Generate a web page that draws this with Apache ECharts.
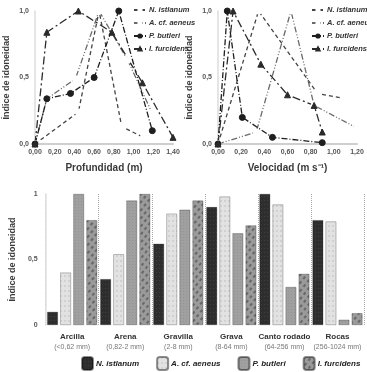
<!DOCTYPE html>
<html>
<head>
<meta charset="utf-8">
<script src="https://cdn.jsdelivr.net/npm/echarts@6/dist/echarts.min.js"></script>
<style>
html, body { margin: 0; padding: 0; background: #fff; }
#chart { width: 367px; height: 372px; }
</style>
</head>
<body>
<div id="chart"></div>
<script>
// especies
const speciesNames = ['N. istlanum', 'A. cf. aeneus', 'P. butleri', 'I. furcidens']

// profundidad (m)
const depthIstlanumX = [0, 0.44, 0.65, 0.88, 1.10]
const depthIstlanumY = [0, 0.24, 1.0, 0.13, 0.05]
const depthAeneusX = [0, 0.12, 0.41, 0.65, 0.94, 1.19]
const depthAeneusY = [0, 0.34, 0.49, 1.0, 0.63, 0.23]
const depthButleriX = [0, 0.12, 0.36, 0.60, 0.85, 1.19]
const depthButleriY = [0, 0.34, 0.38, 0.50, 1.0, 0.10]
const depthFurcidensX = [0, 0.12, 0.44, 0.78, 1.09, 1.40]
const depthFurcidensY = [0, 0.84, 1.0, 0.84, 0.46, 0.05]

// velocidad (m s-1)
const velIstlanumX = [0, 0.35, 0.86, 1.10]
const velIstlanumY = [0, 1.0, 0.38, 0.34]
const velAeneusX = [0, 0.33, 0.63, 0.83, 1.20]
const velAeneusY = [0, 0.09, 1.0, 0.29, 0.12]
const velButleriX = [0, 0.08, 0.21, 0.47, 0.90]
const velButleriY = [0, 1.0, 0.20, 0.05, 0.01]
const velFurcidensX = [0, 0.13, 0.37, 0.60, 0.83, 0.90]
const velFurcidensY = [0, 1.0, 0.60, 0.37, 0.29, 0.09]

// sustrato
const substrateNames = ['Arcilla', 'Arena', 'Gravilla', 'Grava', 'Canto rodado', 'Rocas']
const substrateRanges = ['(<0,62 mm)', '(0,82-2 mm)', '(2-8 mm)', '(8-64 mm)', '(64-256 mm)', '(256-1024 mm)']
const subIstlanum = [0.10, 0.35, 0.62, 0.90, 1.0, 0.80]
const subAeneus = [0.40, 0.54, 0.85, 0.98, 0.92, 0.79]
const subButleri = [1.0, 0.95, 0.88, 0.70, 0.29, 0.04]
const subFurcidens = [0.80, 1.0, 0.95, 0.76, 0.39, 0.09]

const font = '"Liberation Sans", Arial, sans-serif'

function zip (xs, ys) {
  return xs.map((x, i) => [x, ys[i]])
}
function comma (v, d) {
  return v.toFixed(d).replace('.', ',')
}

// estilos de linea por especie
const lineLook = [
  { color: '#444', dash: [4, 3], symbol: 'emptyCircle', size: 5 },
  { color: '#6a6a6a', dash: [6, 2, 1, 2, 1, 2], symbol: 'emptyCircle', size: 5 },
  { color: '#1e1e1e', dash: [6, 2, 1, 2], symbol: 'circle', size: 6 },
  { color: '#2a2a2a', dash: [8, 3, 2, 3], symbol: 'triangle', size: 6 }
]

const depthData = [
  zip(depthIstlanumX, depthIstlanumY),
  zip(depthAeneusX, depthAeneusY),
  zip(depthButleriX, depthButleriY),
  zip(depthFurcidensX, depthFurcidensY)
]
const velData = [
  zip(velIstlanumX, velIstlanumY),
  zip(velAeneusX, velAeneusY),
  zip(velButleriX, velButleriY),
  zip(velFurcidensX, velFurcidensY)
]
const barData = [subIstlanum, subAeneus, subButleri, subFurcidens]

const barLook = [
  { color: '#2e2e2e', decal: { symbol: 'rect', color: 'rgba(255,255,255,0.08)', dashArrayX: [1, 2], dashArrayY: [1, 3], symbolSize: 1 } },
  { color: '#e2e2e2', decal: { symbol: 'circle', color: 'rgba(0,0,0,0.10)', dashArrayX: [2, 2], dashArrayY: [2, 3], symbolSize: 1 } },
  { color: '#a0a0a0', decal: { symbol: 'rect', color: 'rgba(0,0,0,0.08)', dashArrayX: [1, 2], dashArrayY: [1, 2], symbolSize: 1 } },
  { color: '#9a9a9a', decal: { symbol: 'rect', color: 'rgba(40,40,40,0.45)', dashArrayX: [[3, 3]], dashArrayY: [2, 3], rotation: -0.9, symbolSize: 1 } }
]

function lineSeries (idx, data, gridIdx) {
  const look = lineLook[idx]
  return {
    name: speciesNames[idx],
    type: 'line',
    xAxisIndex: gridIdx,
    yAxisIndex: gridIdx,
    data: data,
    symbol: look.symbol,
    symbolSize: look.size,
    showAllSymbol: true,
    lineStyle: { color: look.color, width: 1.3, type: look.dash },
    itemStyle: { color: look.symbol.indexOf('empty') === 0 ? '#fff' : look.color, borderColor: look.color, borderWidth: 1 },
    z: 3
  }
}

const axisNameStyle = { fontFamily: font, fontWeight: 'bold', color: '#3a3a3a' }
const axisLabelStyle = { fontFamily: font, fontWeight: 'bold', color: '#555' }

function valueXAxis (gridIdx, max, name) {
  return {
    type: 'value',
    gridIndex: gridIdx,
    min: 0,
    max: max,
    interval: 0.2,
    name: name,
    nameLocation: 'middle',
    nameGap: 19,
    nameTextStyle: Object.assign({ fontSize: 10 }, axisNameStyle),
    axisLine: { show: true, lineStyle: { color: '#cfcfcf', width: 2 } },
    axisTick: { show: false },
    splitLine: { show: false },
    axisLabel: Object.assign({ fontSize: 7, margin: 5, formatter: v => comma(v, 2) }, axisLabelStyle)
  }
}
function valueYAxis (gridIdx) {
  return {
    type: 'value',
    gridIndex: gridIdx,
    min: 0,
    max: 1,
    interval: 0.5,
    name: 'Índice de idoneidad',
    nameLocation: 'middle',
    nameGap: 24,
    nameTextStyle: Object.assign({ fontSize: 9 }, axisNameStyle),
    axisLine: { show: true, lineStyle: { color: '#dcdcdc', width: 1.5 } },
    axisTick: { show: false },
    splitLine: { show: false },
    axisLabel: Object.assign({ fontSize: 7, margin: 6, formatter: v => comma(v, 1) }, axisLabelStyle)
  }
}

const series = []
for (let i = 0; i < 4; i++) series.push(lineSeries(i, depthData[i], 0))
for (let i = 0; i < 4; i++) series.push(lineSeries(i, velData[i], 1))
for (let i = 0; i < 4; i++) {
  series.push({
    name: 'bar:' + speciesNames[i],
    type: 'bar',
    xAxisIndex: 2,
    yAxisIndex: 2,
    data: barData[i],
    barGap: '22%',
    barCategoryGap: '6%',
    itemStyle: { color: barLook[i].color, decal: barLook[i].decal, borderColor: 'rgba(0,0,0,0.25)', borderWidth: 0.5 }
  })
}

const lineLegend = (left) => ({
  data: speciesNames,
  left: left,
  top: 1,
  orient: 'vertical',
  itemGap: 5,
  itemWidth: 12,
  itemHeight: 4,
  textStyle: { fontFamily: font, fontSize: 7.5, fontStyle: 'italic', fontWeight: 'bold', color: '#333', padding: [0, 0, 0, -2] },
  selectedMode: false
})

const option = {
  animation: false,
  backgroundColor: '#fff',
  legend: [
    lineLegend(128),
    lineLegend(306),
    {
      data: speciesNames.map(n => 'bar:' + n),
      formatter: n => n.replace('bar:', ''),
      left: 76,
      top: 351,
      itemGap: 17,
      itemWidth: 11,
      itemHeight: 13,
      textStyle: { fontFamily: font, fontSize: 8, fontStyle: 'italic', fontWeight: 'bold', color: '#222', padding: [0, 0, 0, -2] },
      selectedMode: false
    }
  ],
  grid: [
    { left: 35, top: 11, width: 138, height: 133 },
    { left: 218, top: 11, width: 139, height: 133 },
    { left: 37, top: 194, width: 327, height: 131 }
  ],
  xAxis: [
    valueXAxis(0, 1.4, 'Profundidad (m)'),
    valueXAxis(1, 1.2, 'Velocidad (m s⁻¹)'),
    {
      type: 'category',
      gridIndex: 2,
      data: substrateNames.map((n, i) => i),
      axisLine: { show: false },
      axisTick: { show: false },
      splitLine: { show: true, lineStyle: { color: '#aaa', type: 'dotted', width: 1 } },
      axisLabel: {
        margin: 6,
        interval: 0,
        formatter: i => '{a|' + substrateNames[i] + '}\n{b|' + substrateRanges[i] + '}',
        rich: {
          a: { fontFamily: font, fontSize: 8, fontWeight: 'bold', color: '#333', lineHeight: 11 },
          b: { fontFamily: font, fontSize: 7, color: '#777', lineHeight: 10 }
        }
      }
    }
  ],
  yAxis: [
    valueYAxis(0),
    valueYAxis(1),
    {
      type: 'value',
      gridIndex: 2,
      min: 0,
      max: 1,
      interval: 0.5,
      name: 'Índice de idoneidad',
      nameLocation: 'middle',
      nameGap: 24,
      nameTextStyle: Object.assign({ fontSize: 9 }, axisNameStyle),
      axisLine: { show: true, lineStyle: { color: '#e0e0e0', width: 1.5 } },
      axisTick: { show: false },
      splitLine: { show: false },
      axisLabel: Object.assign({ fontSize: 7, margin: 8, formatter: v => (v === 0.5 ? '0,5' : String(v)) }, axisLabelStyle)
    }
  ],
  series: series
}

const chart = echarts.init(document.getElementById('chart'))
chart.setOption(option)
</script>
</body>
</html>
